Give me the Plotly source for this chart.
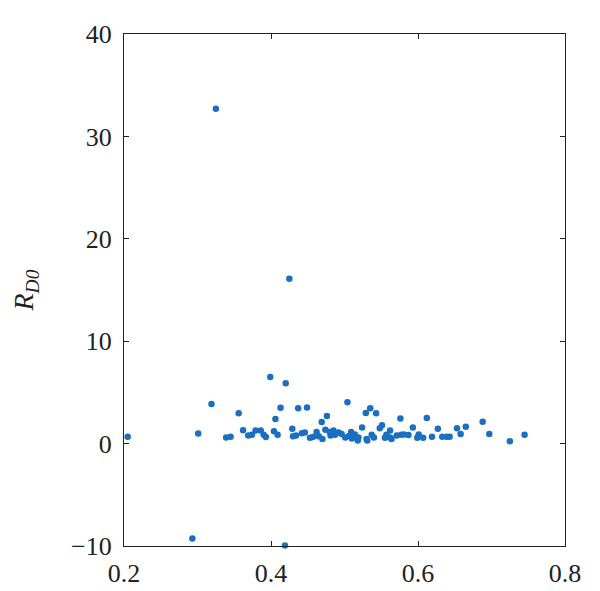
import plotly.graph_objects as go

x_vals = [0.325, 0.425, 0.399, 0.420, 0.319, 0.504, 0.356, 0.413, 0.437, 0.449,
          0.535, 0.529, 0.543, 0.406, 0.476, 0.469, 0.576, 0.612, 0.688, 0.665,
          0.653, 0.627, 0.593, 0.551, 0.548, 0.524, 0.429, 0.362, 0.379, 0.386,
          0.404, 0.301, 0.205, 0.293, 0.419, 0.697, 0.725, 0.745, 0.658, 0.633,
          0.639, 0.643, 0.619, 0.607, 0.601, 0.599, 0.587, 0.581, 0.577, 0.571,
          0.562, 0.562, 0.557, 0.555, 0.564, 0.540, 0.537, 0.530, 0.531, 0.518,
          0.519, 0.514, 0.510, 0.509, 0.506, 0.501, 0.496, 0.492, 0.487, 0.485,
          0.481, 0.480, 0.474, 0.470, 0.465, 0.462, 0.457, 0.453, 0.446, 0.442,
          0.434, 0.430, 0.409, 0.393, 0.390, 0.374, 0.369, 0.345, 0.339]
y_vals = [32.7, 16.1, 6.5, 5.9, 3.87, 4.05, 2.97, 3.49, 3.45, 3.53,
          3.45, 3.0, 2.97, 2.4, 2.7, 2.1, 2.44, 2.5, 2.14, 1.65,
          1.5, 1.46, 1.58, 1.8, 1.5, 1.58, 1.46, 1.3, 1.28, 1.28,
          1.2, 0.98, 0.68, -9.27, -9.95, 0.94, 0.23, 0.86, 0.94, 0.68,
          0.68, 0.68, 0.68, 0.56, 0.9, 0.56, 0.83, 0.9, 0.86, 0.79,
          1.28, 0.6, 0.86, 0.56, 0.45, 0.6, 0.86, 0.45, 0.3, 0.3,
          0.6, 0.9, 0.5, 1.13, 0.75, 0.6, 0.94, 1.09, 0.86, 1.28,
          0.79, 1.13, 1.35, 0.45, 0.71, 1.13, 0.64, 0.56, 1.09, 1.01,
          0.79, 0.71, 0.86, 0.64, 0.86, 0.86, 0.79, 0.68, 0.6]

x_ticks = [0.2, 0.4, 0.6, 0.8]
x_tick_text = ["0.2", "0.4", "0.6", "0.8"]
y_ticks = [-10, 0, 10, 20, 30, 40]
y_tick_text = ["\u221210", "0", "10", "20", "30", "40"]

fig = go.Figure(go.Scatter(
    x=x_vals, y=y_vals, mode="markers",
    marker=dict(color="#1a6fc0", size=6.5, line=dict(width=0)),
    showlegend=False, cliponaxis=False,
))

font_family = "Liberation Serif, DejaVu Serif, serif"
axis_common = dict(
    showline=True, linecolor="#222", linewidth=1.3, mirror="ticks",
    ticks="inside", ticklen=5, tickcolor="#222", tickwidth=1.3,
    showgrid=False, zeroline=False, automargin=False,
    tickfont=dict(family=font_family, size=26, color="#222"),
)

# page body has an 8px margin, so the figure is sized/offset to compensate
fig.update_layout(
    width=592, height=583,
    margin=dict(l=116, r=35, t=26, b=45),
    plot_bgcolor="white", paper_bgcolor="white",
    xaxis=dict(range=[0.2, 0.8], tickvals=x_ticks, ticktext=x_tick_text,
               ticklabelstandoff=4, **axis_common),
    yaxis=dict(range=[-10, 40], tickvals=y_ticks, ticktext=y_tick_text,
               ticklabelstandoff=6,
               title=dict(text="<i>R</i><sub><i>D0</i></sub>",
                          font=dict(family=font_family, size=28, color="#222"),
                          standoff=40),
               **axis_common),
)

fig.write_html("out.html")
